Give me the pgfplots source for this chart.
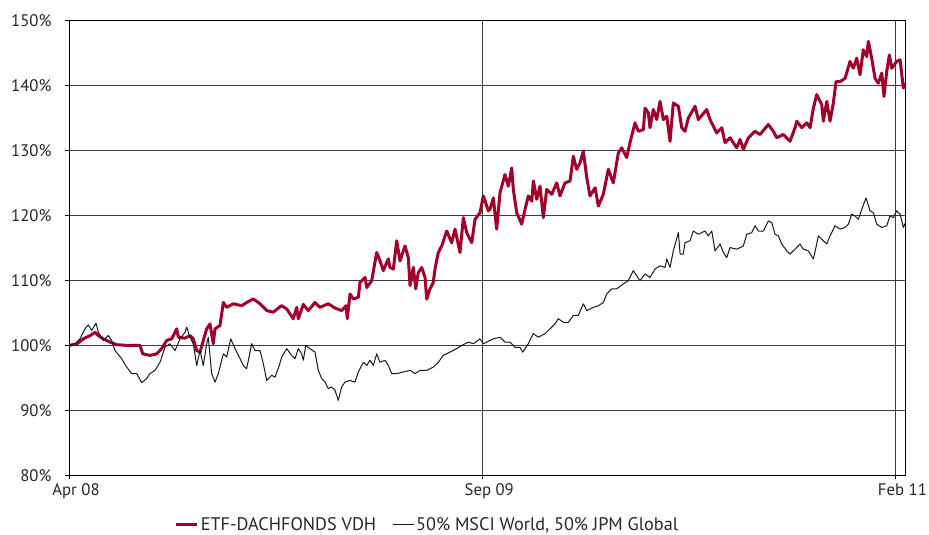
\documentclass[border=0pt]{standalone}
\usepackage{fontspec}
\setmainfont{PT Sans}
\usepackage{pgfplots}
\pgfplotsset{compat=1.18}
\definecolor{etfred}{RGB}{160,0,42}
\definecolor{gridgray}{RGB}{60,60,60}

\pgfplotstableread{
d v
0 100.0
9.6 100.2
17.9 101.0
26.3 101.5
32.5 102.0
36.7 101.5
42.9 101.0
51.3 100.5
59.7 100.1
72.2 100.0
88.8 100.0
92.2 98.7
101.3 98.45
109.7 98.7
116 99.5
122.2 100.75
128.5 101.0
134.8 102.55
136.8 101.25
145.1 101.1
151.4 101.5
155.5 101.0
159.8 99.2
163.9 98.95
168 100.75
172.3 102.55
176.4 103.3
180.5 100.25
182.7 102.55
188.9 103.05
193.1 106.6
197.3 105.85
205.6 106.4
216.1 106.1
222.3 106.6
230.6 107.15
239 106.4
247.4 105.35
255.6 105.1
263.1 105.85
266.1 106.1
272.4 105.6
280.6 104.1
284.9 105.85
286.9 104.1
293.2 106.3
299.4 105.35
307.8 106.6
314 105.85
324.4 106.4
332.8 105.75
341.2 105.35
346.6 106.1
348.2 104.1
351.6 107.9
355.7 107.15
362 107.4
364.1 109.7
370.4 110.45
372.5 108.9
378.7 109.95
385 114.3
389.1 113.0
393.3 111.5
399.5 113.3
401.6 112.0
405.8 111.75
410 116.1
414.1 113.0
420.4 115.3
424.5 113.5
426.7 109.2
430.8 112.0
433.8 108.7
437 111.2
441.3 112.0
445.4 110.45
447.6 107.15
451.7 108.7
455.8 109.7
457.9 111.75
462.1 114.3
466.3 115.3
472.6 117.6
478.8 115.8
483 117.9
489.2 114.3
493.4 119.65
497.6 117.35
503.9 115.8
508 119.4
514.2 120.4
518.4 123.0
524.6 120.7
526.8 120.95
530.9 122.7
535.1 117.9
539.3 123.5
545.5 126.3
549.7 124.5
553.9 127.3
555.9 124.0
560.2 120.4
566.4 118.65
570.6 120.95
574.7 123.0
579 122.2
581 125.3
585.2 122.5
589.3 124.5
593.5 119.65
597.7 124.0
604 123.25
610.2 125.0
614.3 123.0
620.6 125.0
626.9 125.3
631 129.1
635.3 127.1
639.4 128.1
643.5 129.9
647.8 125.8
651.9 123.0
658.2 124.25
662.3 121.45
668.5 123.25
674.8 127.1
681 125.0
687.3 129.6
691.5 130.4
697.8 128.9
701.9 131.2
708.2 134.25
712.3 132.95
718.6 133.2
720.7 136.5
724.8 135.8
726.9 133.5
731.1 136.3
735.3 134.75
739.5 137.55
743.6 134.75
747.9 135.25
752 131.4
756.1 137.3
762.4 136.8
766.6 133.5
770.7 132.95
774.9 135.0
781.1 136.3
783.3 136.8
787.4 134.75
797.9 136.3
802 134.75
810.4 132.7
816.7 133.5
820.8 131.2
827.1 131.95
835.4 130.4
839.6 131.7
843.7 130.15
850 131.95
858.3 132.95
864.6 132.45
875 134.0
881.2 132.95
885.5 131.95
893.7 132.45
902.1 131.4
908.4 133.5
910.5 134.5
916.8 133.5
923 134.25
927.2 133.5
931.3 136.5
935.5 138.6
941.8 137.05
943.8 134.5
948.1 137.55
952.2 134.5
956.3 137.3
959.7 140.6
964.7 140.6
971 141.1
977.2 143.7
981.3 142.65
985.6 144.2
989.7 141.65
993.8 145.5
998.1 144.45
1000.1 146.8
1004.3 144.2
1008.5 141.1
1012.6 140.35
1016.9 141.9
1019.7 138.3
1023.1 142.15
1026.4 144.7
1029.4 142.65
1035.6 143.7
1039.8 143.95
1043.9 139.6
1046.6 140.35
}\etftable

\pgfplotstableread{
d v
0 100.0
7.5 100.25
13.8 101.0
20 102.55
24.1 103.15
28.4 102.3
33.8 103.4
36.7 102.0
42.9 100.75
49.2 101.5
53.4 100.75
57.6 99.2
65.9 97.95
72.2 96.65
78.5 95.65
84.7 95.65
91 94.25
97.2 94.9
101.3 95.65
107.6 96.15
113.9 97.4
120.1 99.7
126.4 100.25
132.6 99.2
138.9 101.0
145.1 102.0
147.3 102.8
151.4 101.25
155.5 100.25
159.8 96.9
163.9 99.2
168 96.9
172.3 100.25
174.3 101.25
178.5 95.65
182.7 94.35
186.8 95.65
193.1 98.7
197.3 98.2
202.3 101.0
207.7 99.5
214 97.95
218.1 96.9
222.3 96.4
228.6 100.25
232.7 99.2
239 99.2
243.1 97.2
247.4 94.6
253.6 95.4
257.7 95.1
263.1 96.9
266.1 98.2
272.4 99.5
278.6 98.45
282.8 97.95
286.9 99.5
291.2 98.7
293.2 97.7
296.2 100.0
301.5 99.5
307.8 98.95
311.9 96.15
316.2 94.9
320.3 94.35
324.4 93.35
328.7 93.6
332.8 93.1
336.9 91.55
341.2 93.6
345.3 94.35
351.6 94.6
357.8 94.35
362 95.9
368.3 97.4
372.5 96.9
376.6 97.7
380.8 96.9
385 98.7
389.1 97.4
395.4 97.7
399.5 96.9
403.8 95.65
410 95.65
418.3 95.9
426.7 96.15
432.9 95.65
439.2 96.15
447.6 96.15
455.8 96.65
462.1 97.4
468.3 98.45
476.7 98.95
485.1 99.5
491.4 100.0
499.6 100.5
505.9 100.25
514.2 101.0
518.4 100.25
522.6 100.5
530.9 101.0
539.3 101.25
545.5 100.5
551.8 100.5
558 99.7
564.3 99.7
567.7 98.95
574.7 100.25
580.9 101.8
587.2 101.25
595.6 101.8
601.8 102.55
608.1 103.3
612.2 104.1
618.5 103.55
624.7 103.55
631 104.6
637.2 104.6
643.5 106.4
647.8 105.35
656 105.85
662.3 106.1
668.5 106.6
672.8 107.9
679 108.7
685.3 108.7
693.5 109.45
699.8 109.95
706 111.5
714.4 109.95
720.7 111.0
726.9 110.45
733.2 111.75
739.5 112.25
745.7 112.0
747.9 113.3
752 112.0
756.1 114.55
762.4 117.35
764.6 114.05
768.6 114.05
770.7 115.8
777 116.1
781.1 117.6
787.4 117.1
795.8 117.6
799.9 116.85
804.2 117.6
808.3 114.55
814.6 115.6
818.7 114.3
822.9 113.5
827.1 115.05
835.4 114.8
843.7 115.3
848 117.1
854.2 117.35
858.3 118.4
862.5 117.6
868.7 117.6
875 119.15
879.2 118.9
883.4 117.1
887.5 116.85
891.8 115.6
898 114.55
902.1 114.05
908.4 114.8
914.6 115.6
918.8 114.8
925 114.55
931.3 113.3
935.5 115.6
937.5 116.85
943.8 116.1
948.1 115.6
952.2 116.85
958.4 118.4
964.7 117.9
971 118.15
975.1 118.65
979.4 120.2
983.5 119.9
987.6 119.4
991.9 120.95
997.2 122.7
1002.2 120.7
1006.4 120.4
1010.6 118.65
1016.9 118.15
1023.1 118.4
1027.2 119.9
1031.4 119.65
1035.6 120.7
1039.8 120.2
1043.9 118.15
1046.6 118.9
}\benchtable

\begin{document}
\begin{tikzpicture}
\useasboundingbox (0,0) rectangle (929bp,535bp);
\begin{axis}[
  at={(69bp,59.7bp)}, anchor=south west, scale only axis,
  width=836.5bp, height=454.8bp,
  xmin=0, xmax=1046.6, ymin=80, ymax=150,
  xtick={0,517,1034}, xticklabels={Apr 08,Sep 09,Feb 11},
  ytick={80,90,100,110,120,130,140,150},
  yticklabels={80\%,90\%,100\%,110\%,120\%,130\%,140\%,150\%},
  tick align=outside, major tick length=4bp,
  tick style={black, line width=0.8bp},
  xtick pos=bottom, ytick pos=left,
  xmajorgrids, ymajorgrids,
  major grid style={gridgray, line width=0.9bp},
  axis line style={black, line width=0.9bp},
  tick label style={font=\fontsize{16.8}{19}\selectfont, text=black!85},
  xticklabel style={xshift=7bp, yshift=-1bp},
  yticklabel style={xshift=-10bp},
  legend style={at={(0.4286,-0.109)}, anchor=center, draw=none, fill=none,
    font=\fontsize{18.3}{21}\selectfont, text=black!85,
    legend columns=2, /tikz/every even column/.append style={column sep=14bp}},
  legend image code/.code={\draw[#1] (0bp,0bp) -- (21bp,0bp);},
]
\addplot[etfred, line width=3bp, line join=round] table[x=d, y=v] {\etftable};
\addlegendentry{ETF-DACHFONDS VDH}
\addplot[black!90, line width=1bp, line join=round] table[x=d, y=v] {\benchtable};
\addlegendentry{50\% MSCI World, 50\% JPM Global}
\end{axis}
\end{tikzpicture}
\end{document}
